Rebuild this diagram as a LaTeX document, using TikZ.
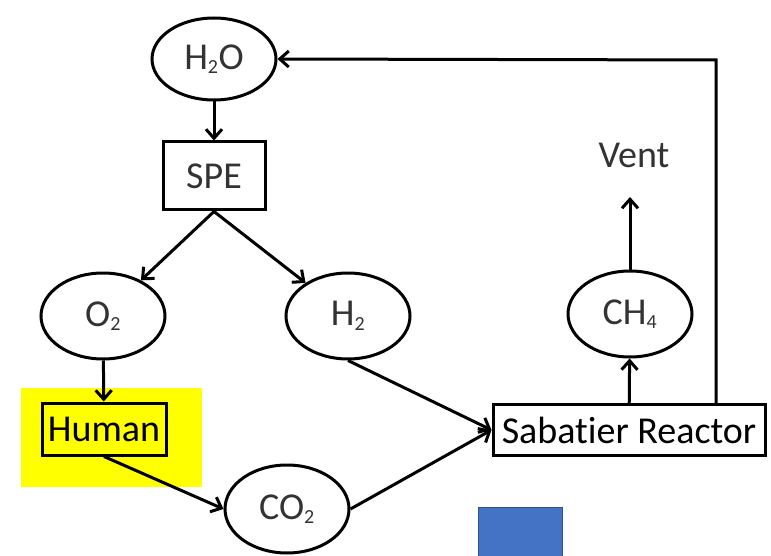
\documentclass[tikz,border=0pt]{standalone}
\usepackage{fontspec}
\setmainfont{Carlito}[Ligatures=NoCommon]
\usepackage{tikz}
\usetikzlibrary{shapes.geometric,arrows.meta}

\definecolor{hiyellow}{HTML}{FFFF00}
\definecolor{boxblue}{HTML}{4472C4}
\definecolor{boxblueline}{HTML}{2F528F}

\tikzset{
  every node/.style={font=\fontsize{38}{40}\selectfont},
  gas/.style={ellipse, draw, line width=3pt, minimum width=124pt,
    minimum height=82pt, inner sep=0pt, text=black!80},
  unit/.style={rectangle, draw, line width=3pt, inner sep=0pt},
  flow/.style={line width=3pt, -{Straight Barb[length=9pt,width=16pt]}},
}

\newcommand{\sub}[1]{\textsubscript{\fontsize{20}{20}\selectfont #1}}

\begin{document}
\begin{tikzpicture}[x=1pt,y=-1pt]
  \useasboundingbox (0,0) rectangle (771,556);

  % Highlight behind the crew.
  \fill[hiyellow] (21,388) rectangle (202,487);

  % Species and units.
  \node[gas] (h2o) at (214,59) {H\sub{2}O};
  \node[unit, minimum width=102pt, minimum height=68pt, text=black!80] (spe) at (214,176) {SPE};
  \node[gas, minimum height=86pt] (o2) at (103,316) {O\sub{2}};
  \node[gas, minimum height=86pt] (h2) at (348,316) {H\sub{2}};
  \node[unit, minimum width=124pt, minimum height=52pt] (human) at (104,429) {Human};
  \node[gas, minimum height=88pt] (co2) at (287,509) {CO\sub{2}};
  \node[unit, minimum width=272pt, minimum height=51pt] (sab) at (629,430) {Sabatier Reactor};
  \node[gas, minimum height=86pt] (ch4) at (630,314) {CH\sub{4}};
  \node[text=black!80] (vent) at (634,155) {Vent};
  \coordinate (ventin) at (630,197);
  \coordinate (ret) at (716,60);

  % Flows.
  \draw[flow] (h2o) -- (spe);
  \draw[flow] (spe.south) -- (o2);
  \draw[flow] (spe.south) -- (h2);
  \draw[flow] (o2) -- (human);
  \draw[flow] (human.south) -- (co2.west);
  \draw[flow] (h2.south) -- (sab.west);
  \draw[flow] (co2.east) -- (sab.west);
  \draw[flow] (sab) -- (ch4);
  \draw[flow] (ch4) -- (ventin);
  \draw[flow] (sab.north -| ret) -- (ret) -- (h2o.east);

  % Blue square at the bottom.
  \draw[boxblueline, fill=boxblue, line width=1pt] (478,507) rectangle (562,560);
\end{tikzpicture}
\end{document}
